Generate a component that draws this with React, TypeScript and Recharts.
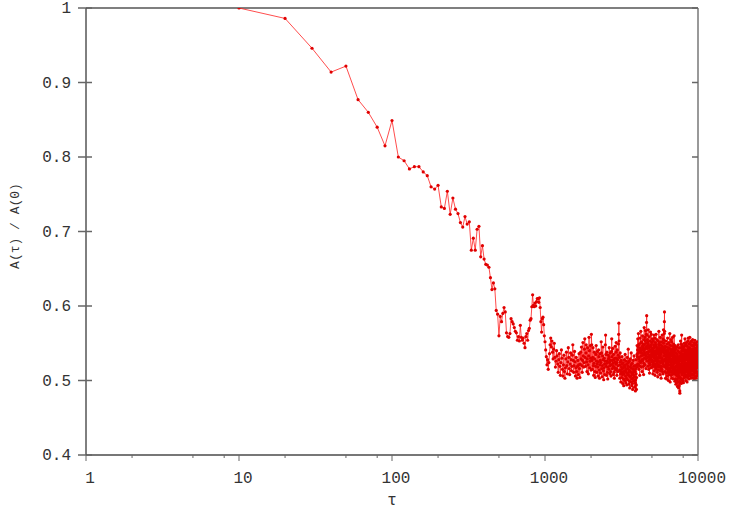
import React from "react";
import { LineChart, Line, XAxis, YAxis, ReferenceLine } from "recharts";

// τ runs 10, 20, ... 10000
const tauStep = 10;

// A(τ)/A(0) for τ = 10 ... 1000
const ratioEarly = [
  1.0, 0.986, 0.946, 0.914, 0.922, 0.877, 0.86, 0.84, 0.815, 0.849,
  0.8, 0.795, 0.784, 0.787, 0.787, 0.78, 0.775, 0.76, 0.757, 0.762,
  0.733, 0.731, 0.754, 0.723, 0.745, 0.73, 0.724, 0.712, 0.706, 0.72,
  0.71, 0.713, 0.675, 0.691, 0.675, 0.703, 0.707, 0.666, 0.681, 0.663,
  0.656, 0.655, 0.652, 0.638, 0.622, 0.631, 0.623, 0.594, 0.589, 0.56,
  0.586, 0.579, 0.59, 0.598, 0.592, 0.564, 0.559, 0.558, 0.563, 0.583,
  0.579, 0.576, 0.571, 0.566, 0.564, 0.554, 0.559, 0.553, 0.574, 0.558,
  0.554, 0.557, 0.55, 0.544, 0.559, 0.563, 0.554, 0.567, 0.57, 0.581,
  0.583, 0.599, 0.615, 0.601, 0.599, 0.604, 0.6, 0.606, 0.61, 0.61,
  0.605, 0.611, 0.598, 0.579, 0.565, 0.583, 0.585, 0.575, 0.56, 0.552,
];

// A(τ)/A(0) x 1000, one array per thousand of τ (1010 ... 10000)
const ratio1k = [
  541, 532, 521, 528, 515, 524, 536, 548, 557, 545,
  553, 538, 529, 542, 550, 531, 518, 526, 540, 533,
  522, 511, 528, 536, 519, 507, 524, 541, 530, 515,
  506, 521, 534, 512, 503, 517, 529, 538, 520, 509,
  525, 544, 531, 516, 508, 522, 537, 528, 513, 519,
  534, 548, 527, 511, 520, 539, 525, 506, 517, 531,
  512, 503, 519, 527, 508, 521, 536, 516, 504, 522,
  538, 529, 545, 520, 511, 527, 551, 533, 518, 524,
  542, 556, 531, 519, 537, 548, 525, 512, 529, 544,
  521, 509, 533, 558, 540, 517, 526, 547, 530, 514,
];
const ratio2k = [
  562, 548, 527, 515, 531, 544, 520, 507, 523, 538,
  529, 512, 504, 519, 535, 547, 526, 511, 522, 539,
  518, 506, 525, 541, 532, 514, 503, 521, 536, 527,
  510, 524, 552, 537, 516, 505, 520, 533, 545, 528,
  513, 501, 517, 530, 522, 508, 526, 548, 561, 535,
  519, 507, 523, 538, 526, 511, 502, 518, 534, 529,
  515, 531, 544, 524, 509, 520, 537, 527, 512, 506,
  521, 539, 556, 532, 516, 527, 543, 523, 508, 519,
  535, 528, 511, 503, 517, 530, 546, 525, 514, 522,
  538, 551, 530, 516, 507, 524, 541, 528, 512, 520,
];
const ratio3k = [
  534, 549, 562, 577, 553, 531, 514, 503, 521, 537,
  525, 509, 498, 512, 527, 518, 504, 515, 532, 522,
  508, 496, 511, 524, 517, 502, 493, 509, 520, 528,
  513, 500, 518, 535, 521, 506, 497, 512, 526, 515,
  503, 494, 510, 522, 531, 516, 501, 508, 519, 542,
  524, 507, 495, 511, 526, 514, 499, 490, 505, 518,
  529, 512, 498, 506, 521, 537, 517, 502, 493, 509,
  523, 510, 496, 488, 503, 515, 527, 511, 499, 507,
  519, 533, 514, 500, 491, 505, 520, 512, 497, 486,
  501, 516, 528, 509, 494, 488, 504, 521, 535, 547,
];
const ratio4k = [
  532, 518, 541, 556, 537, 522, 545, 563, 548, 529,
  515, 531, 549, 538, 520, 507, 526, 543, 557, 540,
  524, 539, 566, 551, 533, 518, 537, 552, 541, 526,
  512, 528, 546, 560, 544, 527, 534, 549, 536, 519,
  508, 523, 540, 555, 571, 548, 530, 542, 558, 537,
  521, 535, 553, 567, 545, 529, 516, 533, 550, 562,
  578, 587, 561, 543, 526, 538, 555, 547, 531, 519,
  536, 552, 568, 549, 532, 515, 527, 544, 559, 540,
  523, 510, 528, 546, 539, 521, 534, 553, 565, 545,
  529, 517, 531, 548, 562, 541, 525, 536, 551, 533,
];
const ratio5k = [
  518, 527, 543, 556, 538, 521, 509, 524, 541, 553,
  535, 519, 532, 548, 561, 544, 526, 513, 530, 546,
  557, 539, 522, 507, 520, 537, 551, 534, 517, 528,
  545, 562, 548, 531, 515, 526, 541, 555, 538, 523,
  511, 529, 544, 536, 519, 505, 521, 539, 553, 542,
  526, 514, 532, 549, 566, 547, 530, 518, 534, 551,
  537, 520, 508, 525, 543, 558, 540, 524, 513, 531,
  548, 535, 517, 503, 519, 538, 552, 543, 527, 515,
  530, 546, 561, 544, 528, 512, 524, 541, 556, 539,
  522, 509, 526, 545, 568, 550, 533, 519, 537, 554,
];
const ratio6k = [
  541, 563, 579, 592, 566, 544, 527, 512, 529, 546,
  534, 518, 503, 521, 538, 553, 540, 524, 510, 527,
  545, 531, 516, 502, 519, 536, 549, 533, 520, 506,
  523, 541, 557, 539, 525, 511, 528, 544, 532, 514,
  500, 517, 535, 551, 537, 521, 508, 526, 543, 530,
  515, 532, 548, 563, 542, 526, 511, 498, 516, 533,
  547, 529, 513, 524, 540, 555, 538, 522, 507, 519,
  536, 552, 534, 517, 503, 520, 539, 527, 511, 525,
  542, 558, 537, 521, 509, 528, 546, 531, 514, 502,
  518, 535, 549, 532, 516, 527, 543, 560, 539, 523,
];
const ratio7k = [
  509, 525, 541, 528, 512, 499, 516, 533, 547, 530,
  514, 502, 519, 537, 524, 508, 495, 511, 528, 543,
  526, 510, 497, 514, 531, 545, 529, 513, 501, 518,
  535, 521, 506, 492, 509, 526, 540, 524, 511, 498,
  515, 532, 548, 530, 517, 503, 490, 507, 523, 538,
  520, 505, 493, 511, 529, 544, 526, 512, 499, 486,
  483, 497, 514, 531, 519, 504, 521, 537, 553, 534,
  518, 502, 516, 533, 549, 528, 511, 496, 513, 527,
  544, 561, 540, 523, 508, 520, 536, 548, 531, 515,
  501, 517, 532, 546, 529, 512, 499, 514, 530, 542,
];
const ratio8k = [
  526, 510, 497, 513, 528, 545, 531, 516, 503, 519,
  535, 550, 533, 518, 506, 522, 539, 527, 511, 524,
  541, 556, 537, 521, 508, 515, 532, 547, 529, 513,
  500, 516, 533, 548, 530, 517, 505, 520, 536, 551,
  534, 519, 507, 523, 540, 528, 512, 498, 514, 531,
  546, 532, 518, 504, 521, 538, 553, 536, 520, 509,
  525, 542, 557, 539, 522, 511, 527, 543, 529, 514,
  502, 518, 535, 549, 533, 517, 506, 523, 540, 526,
  512, 528, 544, 558, 538, 524, 510, 519, 536, 551,
  534, 520, 507, 522, 539, 531, 515, 503, 518, 533,
];
const ratio9k = [
  548, 531, 517, 526, 541, 553, 537, 521, 509, 524,
  538, 529, 513, 504, 519, 535, 547, 532, 518, 527,
  542, 555, 536, 520, 508, 522, 539, 528, 514, 503,
  517, 533, 546, 530, 516, 525, 540, 551, 534, 519,
  507, 521, 537, 526, 511, 502, 518, 534, 548, 531,
  515, 528, 543, 554, 538, 522, 510, 524, 539, 527,
  513, 505, 519, 536, 549, 533, 518, 526, 541, 529,
  516, 503, 520, 537, 551, 535, 521, 512, 528, 544,
  530, 517, 506, 523, 539, 547, 532, 519, 525, 538,
  552, 536, 521, 509, 524, 540, 531, 518, 527, 535,
];

const xTicks = [1, 10, 100, 1000, 10000];
const xMinorTicks = [2, 5, 8, 20, 50, 80, 200, 500, 800, 2000, 5000, 8000];
const yTicks = [0.4, 0.5, 0.6, 0.7, 0.8, 0.9, 1];

const lateValues = [
  ...ratio1k, ...ratio2k, ...ratio3k, ...ratio4k, ...ratio5k,
  ...ratio6k, ...ratio7k, ...ratio8k, ...ratio9k,
].map((v) => v / 1000);

const data = [...ratioEarly, ...lateValues].map((ratio, i) => ({
  tau: (i + 1) * tauStep,
  ratio,
}));

const FONT = "'Liberation Mono', 'DejaVu Sans Mono', monospace";
const AXIS_GRAY = "#666";

const XTick = (props: any) => {
  const { x, y, payload } = props;
  const major = xTicks.includes(payload.value);
  return (
    <g>
      <line x1={x} x2={x} y1={y} y2={y + (major ? 6 : 3)} stroke={AXIS_GRAY} />
      {major && (
        <text x={x + 4} y={y + 28} textAnchor="middle" fontFamily={FONT} fontSize={16} fill="#333">
          {payload.value}
        </text>
      )}
    </g>
  );
};

const YTick = (props: any) => {
  const { x, y, payload } = props;
  return (
    <g>
      <line x1={x - 8} x2={x + 6} y1={y} y2={y} stroke={AXIS_GRAY} strokeWidth={1.5} />
      <text x={x - 15} y={y + 5} textAnchor="end" fontFamily={FONT} fontSize={16} fill="#333">
        {String(payload.value)}
      </text>
    </g>
  );
};

const RightTick = (props: any) => {
  const { x, y } = props;
  return <line x1={x - 6} x2={x} y1={y} y2={y} stroke={AXIS_GRAY} strokeWidth={1.5} />;
};

export default function App() {
  return (
    <div style={{ position: "absolute", left: 0, top: 0, background: "#fff" }}>
      <LineChart
        width={730}
        height={513}
        data={data}
        margin={{ top: 8, right: 0, bottom: 0, left: 0 }}
      >
        <XAxis
          dataKey="tau"
          type="number"
          scale="log"
          domain={[1, 10000]}
          allowDataOverflow
          ticks={[...xTicks, ...xMinorTicks]}
          interval={0}
          height={58}
          tickSize={0}
          tickMargin={0}
          tickLine={false}
          tick={XTick}
          axisLine={{ stroke: "#777", strokeWidth: 2 }}
          label={{
            value: "τ",
            position: "insideBottom",
            offset: 8,
            fontFamily: FONT,
            fontSize: 16,
            fill: "#333",
          }}
        />
        <YAxis
          yAxisId="left"
          type="number"
          domain={[0.4, 1]}
          allowDataOverflow
          ticks={yTicks}
          interval={0}
          width={86}
          tickSize={0}
          tickMargin={0}
          tickLine={false}
          tick={YTick}
          axisLine={{ stroke: "#000", strokeWidth: 1 }}
          label={() => (
            <text
              x={19}
              y={226}
              transform="rotate(-90, 19, 226)"
              textAnchor="middle"
              fontFamily={FONT}
              fontSize={13}
              fill="#333"
            >
              A(τ) / A(0)
            </text>
          )}
        />
        <YAxis
          yAxisId="right"
          orientation="right"
          type="number"
          domain={[0.4, 1]}
          allowDataOverflow
          ticks={yTicks}
          interval={0}
          width={32}
          tickSize={0}
          tickMargin={0}
          tickLine={false}
          tick={RightTick}
          axisLine={{ stroke: "#777", strokeWidth: 1.5 }}
        />
        <ReferenceLine yAxisId="left" y={1} stroke="#555" strokeWidth={1.5} />
        <Line
          yAxisId="left"
          dataKey="ratio"
          stroke="#ff2020"
          strokeWidth={0.8}
          dot={{ r: 1.6, fill: "#e00000", stroke: "none" }}
          isAnimationActive={false}
        />
      </LineChart>
    </div>
  );
}
